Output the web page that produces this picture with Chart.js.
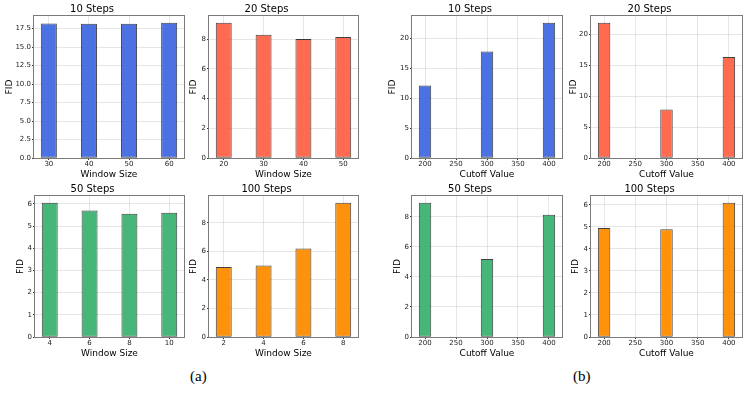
<!DOCTYPE html>
<html>
<head>
<meta charset="utf-8">
<script src="https://cdn.jsdelivr.net/npm/chart.js@4"></script>
<style>
  body { margin: 0; background: #fff; }
  #fig { position: relative; width: 747px; height: 397px; overflow: hidden; }
  #fig canvas { position: absolute; }
  .tag { position: absolute; font-family: "Liberation Serif", serif; font-size: 15px; line-height: 16px; color: #000; }
</style>
</head>
<body>
<div id="fig">
  <div class="tag" style="left:190px;top:368px">(a)</div>
  <div class="tag" style="left:573px;top:368px">(b)</div>
</div>
<script>
// (a) window size sweep
const windowA10 = [30, 40, 50, 60];
const fidA10 = [18.2, 18.15, 18.15, 18.3];
const windowA20 = [20, 30, 40, 50];
const fidA20 = [9.1, 8.3, 8.0, 8.15];
const windowA50 = [4, 6, 8, 10];
const fidA50 = [6.05, 5.7, 5.55, 5.6];
const windowA100 = [2, 4, 6, 8];
const fidA100 = [4.9, 5.0, 6.2, 9.4];

// (b) cutoff sweep
const cutoffs = [200, 300, 400];
const fidB10 = [12.1, 17.8, 22.6];
const fidB20 = [21.85, 7.85, 16.3];
const fidB50 = [8.95, 5.2, 8.15];
const fidB100 = [4.95, 4.9, 6.1];

const BLUE = 'rgba(65,105,225,0.95)';
const RED = 'rgba(255,99,71,0.95)';
const GREEN = 'rgba(60,179,113,0.95)';
const ORANGE = 'rgba(255,140,0,0.95)';

Chart.defaults.font.family = "'DejaVu Sans', sans-serif";
Chart.defaults.color = '#000';

// 各パネルの配置 (プロット領域の左上と大きさ)
const panels = [
  { title: '10 Steps', xs: windowA10, ys: fidA10, color: BLUE, xlabel: 'Window Size', xStep: 10, barW: 4, yStep: 2.5, dec: 1,
    left: 34, top: 16, w: 150, h: 142, fidX: 9.5 },
  { title: '20 Steps', xs: windowA20, ys: fidA20, color: RED, xlabel: 'Window Size', xStep: 10, barW: 4, yStep: 2, dec: 0,
    left: 209, top: 16, w: 149, h: 142, fidX: 18.3 },
  { title: '10 Steps', xs: cutoffs, ys: fidB10, color: BLUE, xlabel: 'Cutoff Value', xStep: 50, barW: 20, yStep: 5, dec: 0,
    left: 412, top: 16, w: 150, h: 142, fidX: 14.7 },
  { title: '20 Steps', xs: cutoffs, ys: fidB20, color: RED, xlabel: 'Cutoff Value', xStep: 50, barW: 20, yStep: 5, dec: 0,
    left: 591, top: 16, w: 151, h: 142, fidX: 16.3 },
  { title: '50 Steps', xs: windowA50, ys: fidA50, color: GREEN, xlabel: 'Window Size', xStep: 2, barW: 0.8, yStep: 1, dec: 0,
    left: 35, top: 196, w: 149, h: 141, fidX: 19.7 },
  { title: '100 Steps', xs: windowA100, ys: fidA100, color: ORANGE, xlabel: 'Window Size', xStep: 2, barW: 0.8, yStep: 2, dec: 0,
    left: 209, top: 196, w: 149, h: 141, fidX: 18.3 },
  { title: '50 Steps', xs: cutoffs, ys: fidB50, color: GREEN, xlabel: 'Cutoff Value', xStep: 50, barW: 20, yStep: 2, dec: 0,
    left: 412, top: 196, w: 150, h: 141, fidX: 19.3 },
  { title: '100 Steps', xs: cutoffs, ys: fidB100, color: ORANGE, xlabel: 'Cutoff Value', xStep: 50, barW: 20, yStep: 1, dec: 0,
    left: 591, top: 196, w: 151, h: 141, fidX: 18.7 },
];

// 枠線 (matplotlib の spines)
const framePlugin = {
  id: 'frame',
  afterDraw(chart) {
    const { ctx, chartArea: a } = chart;
    ctx.save();
    ctx.strokeStyle = '#7a7a7a';
    ctx.lineWidth = 1;
    ctx.strokeRect(a.left - 0.5, a.top - 0.5, a.width + 1, a.height + 1);
    ctx.restore();
  }
};

const fig = document.getElementById('fig');
const AXIS_W = 34, TITLE_H = 16, XAXIS_H = 24, PAD_R = 4;

function makePanel(p) {
  const canvas = document.createElement('canvas');
  const cw = AXIS_W + p.w + PAD_R;
  const ch = TITLE_H + p.h + XAXIS_H;
  canvas.width = cw;
  canvas.height = ch;
  canvas.style.left = (p.left - AXIS_W) + 'px';
  canvas.style.top = (p.top - TITLE_H) + 'px';
  canvas.style.width = cw + 'px';
  canvas.style.height = ch + 'px';
  fig.appendChild(canvas);

  const lo = p.xs[0] - p.barW / 2;
  const hi = p.xs[p.xs.length - 1] + p.barW / 2;
  const margin = (hi - lo) * 0.05;
  const yMax = Math.max(...p.ys) * 1.05;

  const grid = {
    color: 'rgba(175,175,175,0.45)',
    borderDash: [2.5, 2],
    lineWidth: 0.7,
    offset: false,
    drawTicks: true,
    tickLength: 2,
    tickColor: '#333',
    tickWidth: 1,
    tickBorderDash: [],
  };

  new Chart(canvas.getContext('2d'), {
    type: 'bar',
    data: {
      datasets: [{
        data: p.xs.map((x, i) => ({ x: x, y: p.ys[i] })),
        backgroundColor: p.color,
        borderColor: 'rgba(0,0,0,0.75)',
        borderWidth: 1,
        borderSkipped: false,
        barPercentage: 0.4,
        categoryPercentage: 1.0,
      }]
    },
    options: {
      responsive: false,
      animation: false,
      events: [],
      layout: { padding: { left: 0, right: PAD_R, top: 0, bottom: 0 } },
      plugins: {
        legend: { display: false },
        tooltip: { enabled: false },
        title: {
          display: true,
          text: p.title,
          color: '#000',
          font: { size: 10, weight: 'normal', lineHeight: '12px' },
          padding: { top: 3, bottom: 1 },
        },
      },
      scales: {
        x: {
          type: 'linear',
          offset: false,
          min: lo - margin,
          max: hi + margin,
          grid: grid,
          border: { display: false },
          ticks: {
            stepSize: p.xStep,
            includeBounds: false,
            autoSkip: false,
            maxRotation: 0,
            padding: 0,
            color: '#222',
            font: { size: 7 },
          },
          title: {
            display: true,
            text: p.xlabel,
            color: '#000',
            font: { size: 9, lineHeight: 1.2 },
            padding: { top: 0, bottom: 1.5 },
          },
          afterFit: s => { s.height = XAXIS_H; },
        },
        y: {
          min: 0,
          max: yMax,
          grid: grid,
          border: { display: false },
          ticks: {
            stepSize: p.yStep,
            includeBounds: false,
            padding: 1,
            color: '#222',
            font: { size: 7 },
            callback: v => Number(v).toFixed(p.dec),
          },
          title: {
            display: true,
            text: 'FID',
            color: '#000',
            font: { size: 9, lineHeight: 1.2 },
            padding: { top: p.fidX - 5.4, bottom: 0 },
          },
          afterFit: s => { s.width = AXIS_W; },
        },
      },
    },
    plugins: [framePlugin],
  });
}

panels.forEach(makePanel);
</script>
</body>
</html>
